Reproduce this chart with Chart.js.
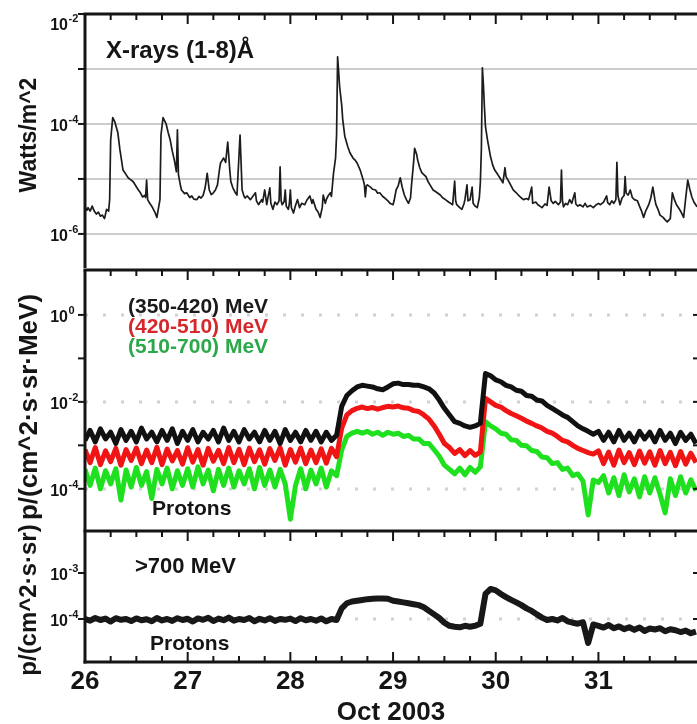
<!DOCTYPE html>
<html>
<head>
<meta charset="utf-8">
<script src="https://cdn.jsdelivr.net/npm/chart.js@4.4.1/dist/chart.umd.min.js"></script>
<style>
  html, body { margin: 0; padding: 0; background: #fff; overflow: hidden; }
  #wrap { position: relative; width: 697px; height: 724px; overflow: hidden; }
  #wrap canvas { position: absolute; left: 0; }
  .note, .ytitle { position: absolute; font-family: "Liberation Sans", Arial, Helvetica, sans-serif; font-weight: bold; line-height: 1; white-space: nowrap; color: #151515; }
  .ytitle { transform: translate(-50%, -50%) rotate(-90deg); }
</style>
</head>
<body>
<div id="wrap">
  <canvas id="xray" width="697" height="270" style="top:0px"></canvas>
  <canvas id="protons" width="697" height="265" style="top:268px"></canvas>
  <canvas id="highE" width="697" height="200" style="top:529px"></canvas>
</div>
<script>
const FONT = '"Liberation Sans", Arial, Helvetica, sans-serif';
const INK = '#151515';

const dayMin = 26, dayMax = 31.96;
const dayTicks = [26, 27, 28, 29, 30, 31];

// GOES X-ray flux, 1-8 A band (W/m^2)
const xrayDays = [26.00,26.02,26.03,26.05,26.07,26.09,26.11,26.13,26.15,26.17,
  26.19,26.21,26.23,26.24,26.25,26.27,26.29,26.32,26.34,26.37,
  26.40,26.42,26.44,26.47,26.50,26.52,26.54,26.56,26.58,26.59,
  26.60,26.61,26.63,26.65,26.68,26.70,26.73,26.74,26.76,26.79,
  26.81,26.83,26.85,26.87,26.89,26.90,26.91,26.93,26.94,26.97,
  26.99,27.02,27.04,27.06,27.09,27.11,27.13,27.15,27.17,27.19,
  27.21,27.23,27.25,27.27,27.29,27.31,27.32,27.35,27.37,27.39,
  27.41,27.42,27.44,27.46,27.48,27.51,27.53,27.55,27.56,27.58,
  27.61,27.63,27.66,27.67,27.69,27.72,27.73,27.75,27.77,27.78,
  27.80,27.81,27.83,27.85,27.87,27.89,27.90,27.91,27.92,27.94,
  27.95,27.96,27.98,27.99,28.00,28.01,28.03,28.05,28.07,28.09,
  28.11,28.14,28.16,28.19,28.21,28.22,28.25,28.27,28.29,28.31,
  28.32,28.34,28.35,28.37,28.39,28.40,28.42,28.44,28.45,28.46,
  28.47,28.48,28.50,28.51,28.53,28.56,28.58,28.61,28.63,28.65,
  28.68,28.71,28.72,28.73,28.74,28.75,28.78,28.80,28.83,28.85,
  28.87,28.90,28.92,28.95,28.97,29.00,29.01,29.03,29.05,29.07,
  29.09,29.11,29.13,29.15,29.17,29.18,29.20,29.21,29.23,29.24,
  29.26,29.28,29.30,29.32,29.34,29.36,29.39,29.42,29.46,29.48,
  29.51,29.54,29.56,29.58,29.60,29.61,29.62,29.65,29.67,29.69,
  29.70,29.72,29.73,29.75,29.77,29.78,29.80,29.82,29.84,29.85,
  29.86,29.87,29.88,29.89,29.90,29.92,29.95,29.97,29.99,30.02,
  30.04,30.07,30.09,30.10,30.12,30.15,30.17,30.20,30.22,30.25,
  30.27,30.30,30.32,30.35,30.36,30.39,30.41,30.43,30.45,30.48,
  30.50,30.52,30.54,30.56,30.58,30.61,30.63,30.64,30.65,30.66,
  30.68,30.70,30.72,30.74,30.77,30.78,30.80,30.82,30.85,30.87,
  30.89,30.92,30.95,30.98,31.00,31.02,31.05,31.08,31.09,31.11,
  31.13,31.15,31.17,31.18,31.19,31.21,31.23,31.25,31.26,31.27,
  31.29,31.31,31.33,31.35,31.38,31.40,31.42,31.44,31.46,31.49,
  31.51,31.53,31.55,31.56,31.58,31.60,31.63,31.65,31.67,31.70,
  31.72,31.74,31.76,31.78,31.80,31.83,31.85,31.87,31.89,31.91,
  31.93,31.96];
const xrayFlux = [3.1e-6,2.7e-6,3.0e-6,2.6e-6,3.2e-6,2.6e-6,2.3e-6,2.5e-6,2.1e-6,2.2e-6,
  1.9e-6,2.8e-6,2.6e-6,4.2e-6,5.1e-5,1.3e-4,1.1e-4,6.9e-5,3.4e-5,1.45e-5,
  1.2e-5,1.05e-5,9.8e-6,8.9e-6,7.2e-6,6.3e-6,5.6e-6,4.7e-6,5.0e-6,4.6e-6,
  9.5e-6,4.2e-6,3.6e-6,3.2e-6,2.5e-6,2.0e-6,4.2e-6,6.3e-5,1.3e-4,1.0e-4,
  7.0e-5,5.1e-5,3.2e-5,2.2e-5,1.35e-5,7.8e-5,1.2e-5,7.5e-6,6.3e-6,5.4e-6,
  5.6e-6,4.6e-6,4.9e-6,4.3e-6,4.2e-6,4.8e-6,4.5e-6,5.0e-6,6.9e-6,1.26e-5,
  6.3e-6,5.2e-6,5.6e-6,6.3e-6,7.8e-6,1.5e-5,1.95e-5,2.4e-5,2.0e-5,4.7e-5,
  1.45e-5,9.0e-6,6.9e-6,5.8e-6,5.1e-6,6.3e-5,6.3e-6,4.8e-6,4.5e-6,4.9e-6,
  4.2e-6,4.7e-6,5.6e-6,4.0e-6,3.4e-6,4.2e-6,3.8e-6,6.3e-6,3.4e-6,4.4e-6,
  6.9e-6,3.6e-6,2.8e-6,3.8e-6,3.4e-6,4.0e-6,1.66e-5,4.0e-6,3.4e-6,3.9e-6,
  6.3e-6,3.2e-6,2.8e-6,3.5e-6,6.3e-6,3.0e-6,2.4e-6,3.3e-6,4.2e-6,3.0e-6,
  3.6e-6,3.4e-6,4.1e-6,4.9e-6,3.6e-6,4.2e-6,2.8e-6,2.5e-6,2.0e-6,3.0e-6,
  5.1e-6,3.6e-6,4.2e-6,5.0e-6,5.6e-6,4.8e-6,1.26e-5,2.4e-5,6.3e-5,1.66e-3,
  9.0e-4,4.7e-4,2.2e-4,1.2e-4,6.0e-5,3.8e-5,3.0e-5,2.4e-5,2.2e-5,1.95e-5,
  1.45e-5,9.5e-6,8.0e-6,4.7e-6,7.5e-6,7.8e-6,7.1e-6,6.5e-6,6.3e-6,5.5e-6,
  5.6e-6,4.8e-6,4.5e-6,4.0e-6,3.6e-6,3.4e-6,4.0e-6,6.3e-6,7.5e-6,1.05e-5,
  7.0e-6,5.1e-6,4.2e-6,3.6e-6,4.5e-6,7.8e-6,2.0e-5,3.6e-5,2.8e-5,2.2e-5,
  1.6e-5,1.3e-5,1.2e-5,1.1e-5,9.0e-6,7.8e-6,6.3e-6,5.8e-6,5.1e-6,4.6e-6,
  4.2e-6,3.8e-6,3.6e-6,3.4e-6,9.1e-6,4.0e-6,3.4e-6,3.0e-6,2.8e-6,3.5e-6,
  4.2e-6,7.8e-6,4.0e-6,4.2e-6,7.1e-6,3.6e-6,3.2e-6,3.0e-6,4.5e-6,8.5e-6,
  3.4e-5,1.05e-3,5.1e-4,2.0e-4,8.9e-5,5.1e-5,2.5e-5,1.8e-5,1.45e-5,1.2e-5,
  1.05e-5,8.5e-6,1.6e-5,1.1e-5,9.5e-6,7.5e-6,6.3e-6,5.6e-6,5.1e-6,4.5e-6,
  4.2e-6,4.4e-6,4.2e-6,7.1e-6,3.6e-6,3.8e-6,3.4e-6,3.2e-6,3.0e-6,3.5e-6,
  3.3e-6,7.1e-6,4.0e-6,3.6e-6,3.9e-6,3.4e-6,3.8e-6,1.45e-5,4.0e-6,3.1e-6,
  3.6e-6,3.4e-6,4.2e-6,3.6e-6,5.6e-6,3.5e-6,3.2e-6,3.4e-6,3.1e-6,3.6e-6,
  3.1e-6,3.3e-6,3.0e-6,3.4e-6,3.6e-6,3.4e-6,3.8e-6,4.9e-6,3.7e-6,3.4e-6,
  4.0e-6,3.6e-6,4.2e-6,2.0e-5,5.0e-6,3.4e-6,4.5e-6,5.0e-6,1.1e-5,5.5e-6,
  5.1e-6,6.3e-6,4.6e-6,4.2e-6,4.0e-6,3.2e-6,2.6e-6,2.0e-6,2.6e-6,3.4e-6,
  4.5e-6,7.1e-6,4.2e-6,3.4e-6,2.8e-6,2.2e-6,2.0e-6,1.8e-6,1.66e-6,1.9e-6,
  5.6e-6,4.2e-6,3.4e-6,3.0e-6,2.6e-6,2.0e-6,4.5e-6,9.5e-6,6.5e-6,4.7e-6,
  3.8e-6,3.1e-6];

// proton channels, read every 0.05 day
const protonDays = [26.00,26.05,26.10,26.15,26.20,26.25,26.30,26.35,26.40,26.45,
  26.50,26.55,26.60,26.65,26.70,26.75,26.80,26.85,26.90,26.95,
  27.00,27.05,27.10,27.15,27.20,27.25,27.30,27.35,27.40,27.45,
  27.50,27.55,27.60,27.65,27.70,27.75,27.80,27.85,27.90,27.95,
  28.00,28.05,28.10,28.15,28.20,28.25,28.30,28.35,28.40,28.45,
  28.50,28.55,28.60,28.65,28.70,28.75,28.80,28.85,28.90,28.95,
  29.00,29.05,29.10,29.15,29.20,29.25,29.30,29.35,29.40,29.45,
  29.50,29.55,29.60,29.65,29.70,29.75,29.80,29.85,29.90,29.95,
  30.00,30.05,30.10,30.15,30.20,30.25,30.30,30.35,30.40,30.45,
  30.50,30.55,30.60,30.65,30.70,30.75,30.80,30.85,30.90,30.95,
  31.00,31.05,31.10,31.15,31.20,31.25,31.30,31.35,31.40,31.45,
  31.50,31.55,31.60,31.65,31.70,31.75,31.80,31.85,31.90,31.95];
const flux350 = [1.3e-3,2.2e-3,1.2e-3,2.4e-3,1.4e-3,2.0e-3,1.1e-3,2.3e-3,1.3e-3,2.1e-3,
  1.2e-3,2.5e-3,1.4e-3,2.0e-3,1.2e-3,2.2e-3,1.3e-3,2.4e-3,1.1e-3,2.1e-3,
  1.3e-3,2.3e-3,1.2e-3,2.0e-3,1.4e-3,2.2e-3,1.2e-3,2.5e-3,1.3e-3,2.1e-3,
  1.2e-3,2.3e-3,1.4e-3,2.0e-3,1.2e-3,2.2e-3,1.3e-3,2.1e-3,1.1e-3,2.3e-3,
  1.3e-3,2.0e-3,1.2e-3,2.2e-3,1.3e-3,2.1e-3,1.2e-3,2.0e-3,1.3e-3,1.7e-3,
  7.9e-3,1.4e-2,1.8e-2,2.2e-2,2.4e-2,2.3e-2,2.2e-2,2.0e-2,1.9e-2,2.2e-2,
  2.6e-2,2.7e-2,2.5e-2,2.5e-2,2.4e-2,2.4e-2,2.2e-2,2.0e-2,1.6e-2,1.1e-2,
  7.1e-3,5.0e-3,3.5e-3,3.2e-3,2.8e-3,2.6e-3,2.8e-3,3.2e-3,4.5e-2,4.0e-2,
  3.2e-2,2.9e-2,2.4e-2,2.2e-2,1.85e-2,1.75e-2,1.4e-2,1.35e-2,1.1e-2,1.05e-2,
  8.3e-3,7.1e-3,6.0e-3,5.0e-3,4.4e-3,3.5e-3,2.8e-3,2.4e-3,2.1e-3,1.8e-3,
  2.1e-3,1.3e-3,2.0e-3,1.2e-3,2.2e-3,1.3e-3,1.9e-3,1.2e-3,2.1e-3,1.4e-3,
  2.0e-3,1.2e-3,2.2e-3,1.3e-3,1.9e-3,1.1e-3,2.0e-3,1.3e-3,1.8e-3,1.1e-3];
const flux420 = [8.0e-4,4.0e-4,8.9e-4,3.6e-4,7.5e-4,4.2e-4,8.5e-4,3.5e-4,8.0e-4,4.5e-4,
  8.7e-4,3.8e-4,7.8e-4,4.0e-4,9.0e-4,3.6e-4,8.2e-4,4.4e-4,7.6e-4,3.7e-4,
  8.8e-4,4.1e-4,8.0e-4,3.5e-4,8.5e-4,4.3e-4,7.7e-4,3.8e-4,8.9e-4,4.0e-4,
  8.1e-4,3.6e-4,8.6e-4,4.2e-4,7.9e-4,3.7e-4,8.4e-4,4.5e-4,8.8e-4,3.5e-4,
  8.0e-4,4.1e-4,8.6e-4,3.8e-4,7.8e-4,4.0e-4,8.3e-4,3.9e-4,8.5e-4,5.5e-4,
  2.5e-3,5.0e-3,6.3e-3,7.1e-3,7.6e-3,7.0e-3,7.4e-3,6.8e-3,7.4e-3,7.9e-3,
  7.6e-3,8.0e-3,7.3e-3,7.1e-3,6.3e-3,6.0e-3,5.0e-3,4.0e-3,2.8e-3,1.8e-3,
  1.1e-3,8.9e-4,6.5e-4,8.0e-4,5.8e-4,7.6e-4,5.9e-4,7.0e-4,1.2e-2,1.0e-2,
  8.3e-3,7.6e-3,6.3e-3,5.4e-3,4.8e-3,4.2e-3,3.6e-3,3.2e-3,2.8e-3,2.5e-3,
  2.1e-3,1.9e-3,1.6e-3,1.3e-3,1.2e-3,1.0e-3,8.5e-4,7.6e-4,6.8e-4,6.3e-4,
  7.5e-4,3.8e-4,7.0e-4,3.5e-4,7.8e-4,4.0e-4,6.8e-4,3.6e-4,7.4e-4,3.9e-4,
  7.1e-4,3.5e-4,7.6e-4,3.8e-4,6.9e-4,3.4e-4,7.2e-4,3.7e-4,6.6e-4,4.0e-4];
const flux510 = [2.8e-4,1.2e-4,3.0e-4,1.0e-4,2.6e-4,1.3e-4,2.9e-4,5.5e-5,2.7e-4,1.1e-4,
  3.1e-4,1.2e-4,2.5e-4,6.0e-5,2.8e-4,1.3e-4,3.0e-4,1.0e-4,2.6e-4,1.2e-4,
  2.9e-4,1.1e-4,3.2e-4,1.3e-4,2.7e-4,9.0e-5,2.8e-4,1.2e-4,3.0e-4,1.1e-4,
  2.6e-4,1.3e-4,2.9e-4,1.0e-4,3.1e-4,1.2e-4,2.7e-4,1.1e-4,2.8e-4,1.3e-4,
  2.0e-5,1.2e-4,2.9e-4,1.0e-4,2.7e-4,1.3e-4,3.0e-4,1.1e-4,2.6e-4,2.0e-4,
  7.9e-4,1.6e-3,1.9e-3,2.1e-3,1.9e-3,2.1e-3,1.8e-3,2.0e-3,1.7e-3,2.0e-3,
  1.8e-3,1.9e-3,1.6e-3,1.7e-3,1.4e-3,1.4e-3,1.1e-3,1.1e-3,7.9e-4,5.6e-4,
  3.5e-4,2.8e-4,2.2e-4,3.0e-4,2.1e-4,3.1e-4,2.4e-4,3.2e-4,3.5e-3,2.8e-3,
  2.4e-3,1.9e-3,1.8e-3,1.35e-3,1.3e-3,1.0e-3,9.8e-4,7.6e-4,7.2e-4,5.4e-4,
  5.2e-4,3.8e-4,4.0e-4,2.8e-4,3.0e-4,2.0e-4,2.2e-4,1.5e-4,2.5e-5,1.6e-4,
  1.4e-4,2.0e-4,8.0e-5,1.8e-4,7.0e-5,2.1e-4,8.5e-5,1.7e-4,6.5e-5,1.9e-4,
  8.0e-5,1.8e-4,7.5e-5,2.8e-5,1.7e-4,7.0e-5,1.9e-4,8.0e-5,1.6e-4,9.0e-5];
const flux700 = [1.0e-4,9.2e-5,1.05e-4,9.5e-5,1.02e-4,8.8e-5,1.04e-4,9.6e-5,1.0e-4,9.0e-5,
  1.03e-4,9.4e-5,9.9e-5,8.9e-5,1.05e-4,9.3e-5,1.0e-4,9.1e-5,1.04e-4,9.5e-5,
  1.01e-4,8.8e-5,1.03e-4,9.6e-5,1.06e-4,9.0e-5,1.02e-4,9.4e-5,1.07e-4,9.2e-5,
  1.0e-4,9.5e-5,1.05e-4,8.9e-5,1.01e-4,9.3e-5,1.04e-4,9.1e-5,1.0e-4,9.6e-5,
  1.02e-4,9.0e-5,1.04e-4,9.4e-5,1.0e-4,9.2e-5,1.03e-4,8.9e-5,1.0e-4,9.5e-5,
  1.7e-4,2.2e-4,2.4e-4,2.5e-4,2.6e-4,2.7e-4,2.75e-4,2.8e-4,2.8e-4,2.75e-4,
  2.5e-4,2.4e-4,2.3e-4,2.2e-4,2.1e-4,2.0e-4,1.8e-4,1.5e-4,1.26e-4,1.05e-4,
  8.3e-5,7.1e-5,6.8e-5,6.6e-5,7.1e-5,6.8e-5,7.1e-5,7.9e-5,3.5e-4,4.5e-4,
  4.2e-4,3.5e-4,3.0e-4,2.6e-4,2.3e-4,2.0e-4,1.7e-4,1.5e-4,1.26e-4,1.07e-4,
  9.5e-5,1.0e-4,9.3e-5,1.05e-4,8.9e-5,8.3e-5,7.9e-5,8.5e-5,3.0e-5,7.6e-5,
  7.1e-5,6.5e-5,7.4e-5,6.3e-5,6.9e-5,6.0e-5,6.6e-5,5.8e-5,6.5e-5,5.5e-5,
  6.2e-5,5.9e-5,6.3e-5,5.4e-5,6.0e-5,5.7e-5,5.2e-5,5.6e-5,4.9e-5,5.3e-5];

const channelLabels = ['(350-420) MeV', '(420-510) MeV', '(510-700) MeV'];
const channelColors = ['#111111', '#f01414', '#1fe01f'];
const labelColors = ['#1a1a1a', '#d6282c', '#2aa84a'];

// decade ticks for each panel
const xrayLabels = [1e-6, 1e-4, 1e-2];
const xrayMarks = [1e-6, 1e-5, 1e-4, 1e-3, 1e-2];
const xrayGrid = [1e-6, 1e-5, 1e-4, 1e-3];
const protonLabels = [1e-4, 1e-2, 1];
const protonMarks = [1e-4, 1e-3, 1e-2, 1e-1, 1];
const protonGrid = [1e-4, 1e-2, 1];
const highLabels = [1e-4, 1e-3];
const highMarks = [1e-4, 1e-3];
const highGrid = [1e-4];

function seg(ctx, x1, y1, x2, y2) {
  ctx.beginPath();
  ctx.moveTo(x1, y1);
  ctx.lineTo(x2, y2);
  ctx.stroke();
}

const framePlugin = {
  id: 'frame',
  beforeDatasetsDraw(chart, args, o) {
    const {ctx, chartArea: a, scales: {y}} = chart;
    ctx.save();
    ctx.strokeStyle = o.dotted ? '#d2d2d2' : '#cccccc';
    ctx.lineWidth = o.dotted ? 3 : 2;
    ctx.setLineDash(o.dotted ? [3, 15] : []);
    o.grid.forEach(v => {
      const py = Math.round(y.getPixelForValue(v));
      seg(ctx, a.left, py, a.right, py);
    });
    ctx.restore();
  },
  afterDraw(chart, args, o) {
    const {ctx, chartArea: a, scales: {x, y}} = chart;
    ctx.save();
    ctx.strokeStyle = INK;
    ctx.fillStyle = INK;
    ctx.lineWidth = 3;
    seg(ctx, a.left - 1.5, a.top, a.right, a.top);
    seg(ctx, a.left, a.top, a.left, a.bottom + (o.bottomTicks ? 1.5 : 0));
    if (o.bottomTicks) seg(ctx, a.left - 1.5, a.bottom, a.right, a.bottom);
    ctx.lineWidth = 2;
    for (let q = Math.ceil(dayMin * 4); q <= Math.floor(dayMax * 4); q++) {
      const px = x.getPixelForValue(q / 4);
      const len = q % 4 === 0 ? 10 : 6;
      seg(ctx, px, a.top, px, a.top + len);
      if (o.bottomTicks) seg(ctx, px, a.bottom, px, a.bottom - len);
    }
    o.marks.forEach(v => {
      const py = y.getPixelForValue(v);
      seg(ctx, a.left - 7, py, a.left, py);
      if (o.rightMarks) seg(ctx, a.right - 4, py, a.right, py);
    });
    o.labels.forEach(v => {
      const py = Math.max(y.getPixelForValue(v), a.top + 9);
      ctx.font = 'bold 16px ' + FONT;
      ctx.textAlign = 'right';
      ctx.textBaseline = 'middle';
      ctx.fillText('10', 68, py + 3);
      ctx.font = 'bold 11px ' + FONT;
      ctx.textAlign = 'left';
      ctx.fillText(String(Math.round(Math.log10(v))), 68.5, py - 4);
    });
    ctx.restore();
  }
};

function points(days, values) {
  return days.map((d, i) => ({ x: d, y: values[i] }));
}

function panelOptions(yMin, yMax, frame, padding, xAxis) {
  return {
    responsive: false,
    animation: false,
    devicePixelRatio: 1,
    layout: { padding },
    plugins: { legend: { display: false }, tooltip: { enabled: false }, frame },
    elements: { point: { radius: 0 }, line: { tension: 0, borderJoinStyle: 'round' } },
    scales: {
      x: xAxis || { type: 'linear', min: dayMin, max: dayMax, display: false },
      y: {
        type: 'logarithmic', min: yMin, max: yMax,
        ticks: { display: false },
        grid: { display: false },
        border: { display: false },
        afterFit(s) { s.width = 85; }
      }
    }
  };
}

new Chart(document.getElementById('xray'), {
  type: 'line',
  data: {
    datasets: [{
      label: 'X-rays (1-8)Å',
      data: points(xrayDays, xrayFlux),
      borderColor: '#1c1c1c',
      borderWidth: 1.7
    }]
  },
  options: panelOptions(2.4e-7, 1e-2,
    { labels: xrayLabels, marks: xrayMarks, grid: xrayGrid, dotted: false },
    { top: 14, bottom: 2, left: 0, right: 0 }),
  plugins: [framePlugin]
});

new Chart(document.getElementById('protons'), {
  type: 'line',
  data: {
    datasets: [flux350, flux420, flux510].map((vals, i) => ({
      label: channelLabels[i],
      data: points(protonDays, vals),
      borderColor: channelColors[i],
      borderWidth: 5
    }))
  },
  options: panelOptions(1.07e-5, 10.8,
    { labels: protonLabels, marks: protonMarks, grid: protonGrid, dotted: true, rightMarks: true },
    { top: 2, bottom: 2, left: 0, right: 0 }),
  plugins: [framePlugin]
});

new Chart(document.getElementById('highE'), {
  type: 'line',
  data: {
    datasets: [{
      label: '>700 MeV',
      data: points(protonDays, flux700),
      borderColor: '#181818',
      borderWidth: 6
    }]
  },
  options: panelOptions(1.16e-5, 8.2e-3,
    { labels: highLabels, marks: highMarks, grid: highGrid, dotted: true, rightMarks: true, bottomTicks: true },
    { top: 2, bottom: 0, left: 0, right: 0 },
    {
      type: 'linear', min: dayMin, max: dayMax,
      afterBuildTicks(s) { s.ticks = dayTicks.map(v => ({ value: v })); },
      ticks: { color: INK, font: { size: 26, weight: 'bold' }, padding: 4, maxRotation: 0, autoSkip: false },
      grid: { display: false, drawTicks: false },
      border: { display: false },
      title: { display: true, text: 'Oct 2003', color: INK, font: { size: 26, weight: 'bold' }, padding: { top: 0, bottom: 1 } },
      afterFit(s) { s.height = 67; }
    }),
  plugins: [framePlugin]
});

// text inside the panels and rotated axis titles
const wrap = document.getElementById('wrap');
function addText(cls, text, size, left, top, color) {
  const el = document.createElement('div');
  el.className = cls;
  el.textContent = text;
  el.style.fontSize = size + 'px';
  el.style.left = left + 'px';
  el.style.top = top + 'px';
  if (color) el.style.color = color;
  wrap.appendChild(el);
}
addText('note', 'X-rays (1-8)Å', 24, 106, 38);
channelLabels.forEach((t, i) => addText('note', t, 21, 128, 294.5 + i * 20, labelColors[i]));
addText('note', 'Protons', 21, 152, 496.5);
addText('note', '>700 MeV', 22, 135, 555);
addText('note', 'Protons', 21, 150, 631.5);
addText('ytitle', 'Watts/m^2', 23, 28, 135);
addText('ytitle', 'p/(cm^2·s·sr·MeV)', 26, 28, 407);
addText('ytitle', 'p/(cm^2·s·sr)', 24, 28, 600);
</script>
</body>
</html>
